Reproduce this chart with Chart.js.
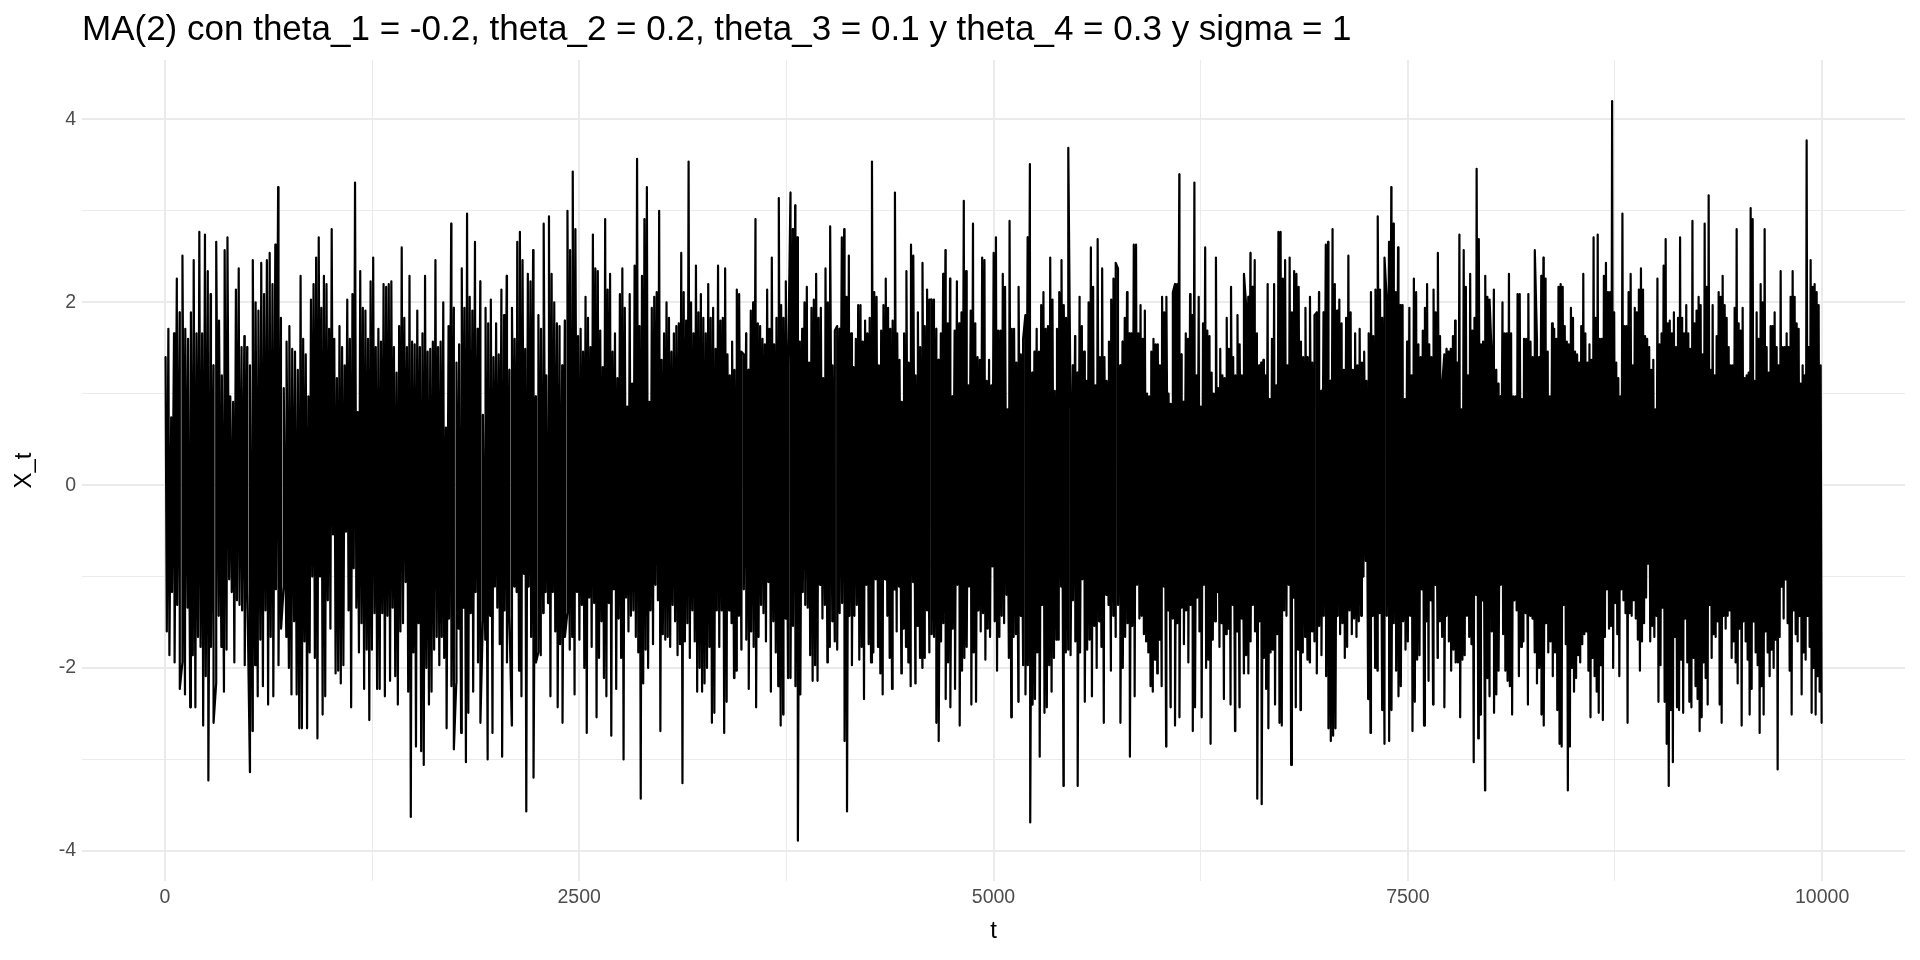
<!DOCTYPE html>
<html>
<head>
<meta charset="utf-8">
<script src="https://cdn.jsdelivr.net/npm/chart.js@4.4.1/dist/chart.umd.min.js"></script>
<style>
  html, body { margin: 0; padding: 0; background: #ffffff; }
  #wrap { width: 1920px; height: 960px; position: relative; }
</style>
</head>
<body>
<div id="wrap"><canvas id="c" width="1920" height="960"></canvas></div>
<script>
const chartTitle = "MA(2) con theta_1 = -0.2, theta_2 = 0.2, theta_3 = 0.1 y theta_4 = 0.3 y sigma = 1";
const xTitle = "t";
const yTitle = "X_t";
const xTickValues = [0, 1250, 2500, 3750, 5000, 6250, 7500, 8750, 10000];
const xTickLabels = ["0", "", "2500", "", "5000", "", "7500", "", "10000"];
const yTickValues = [-4, -3, -2, -1, 0, 1, 2, 3, 4];
const yTickLabels = ["-4", "", "-2", "", "0", "", "2", "", "4"];

// t at which each read-off segment of the series starts / ends
const segmentBounds = [0, 815, 1660, 2505, 3349, 4194, 5039, 5884, 6729, 7574, 8419, 9264, 10000];

// upper spikes of X_t, read left to right, per segment
const upperPeaks = [
 [1.4,1.71,0.74,1.66,2.26,1.89,2.51,1.71,1.6,1.89,2.46,1.66,2.77,1.66,2.74,2.34,2.09,1.31,2.66,1.8,1.2,2.57,2.71,0.97,0.91,2.14,2.37,1.51,1.63,1.51,1.31,2.46,2.0,1.91,2.43,2.09,2.46,2.54,2.2,2.63,3.26,1.83,1.06,1.57,1.74,1.49,1.46,1.26],
 [2.29,1.6,1.43,0.97,2.03,2.2,2.49,2.71,1.94,2.29,2.2,1.71,2.8,1.6,1.17,1.74,1.51,1.31,2.03,1.6,2.09,3.31,0.8,2.34,1.94,1.91,1.6,2.23,2.49,1.51,1.71,1.57,2.2,2.17,2.2,2.23,1.51,1.23,1.74,2.6,1.83,1.51,2.29,1.57,1.54,1.91,1.51,1.66,2.29,1.46,1.49,1.57,2.46,1.51],
 [1.57,2.0,0.63,1.74,2.86,1.94,1.34,1.54,2.37,1.94,2.97,2.06,1.91,2.66,1.71,2.23,0.77,1.94,1.77,2.03,1.4,1.77,1.43,2.14,1.86,2.29,1.26,1.94,1.6,2.66,2.77,2.46,1.49,2.31,2.23,2.57,0.97,1.86,1.71,2.86,1.2,2.94,2.31,2.0,1.77,1.74,1.31,1.8,3.0,2.57,3.43,2.8,1.63],
 [1.71,1.46,2.06,1.83,1.51,2.74,2.37,2.34,1.69,1.29,2.91,2.14,2.31,1.46,1.66,1.17,2.09,2.37,1.94,0.86,2.09,1.11,2.4,3.57,1.74,2.29,2.91,3.26,0.91,1.94,2.06,2.11,3.0,1.37,1.66,2.0,1.83,1.46,1.66,1.74,1.77,2.54,2.11,1.8,3.54,2.0,1.66,2.4,1.89,2.09,1.83,1.66,2.2,1.83,1.94,1.49,2.4],
 [1.8,1.83,2.37,1.43,1.2,1.57,1.26,2.14,2.09,1.46,1.43,1.66,1.26,1.91,2.0,2.91,1.77,1.74,1.6,1.54,2.14,1.71,2.49,1.54,1.83,3.14,1.97,1.83,2.23,1.31,3.2,2.8,3.06,2.71,1.57,1.71,2.0,2.17,1.34,1.94,2.03,2.31,1.83,1.94,1.17,2.37,2.0,2.83,1.31,1.69,1.74,1.71,2.71,2.8,2.06,2.51,1.66,1.29,1.6,1.97],
 [1.97,1.57,1.8,1.66,1.83,3.54,2.11,2.06,1.31,1.69,1.97,2.26,1.94,1.71,1.8,3.2,1.66,1.37,0.91,1.66,2.34,1.34,2.63,2.51,1.2,1.89,1.51,2.43,1.74,2.14,2.03,2.03,2.03,1.71,1.37,1.66,2.31,2.57,1.77,2.26,0.97,1.69,2.23,1.77,1.89,3.11,2.34,1.09,1.91,2.86,1.77,1.4,1.37,2.49,2.46,1.14,1.37,1.09,2.54,2.71,1.69],
 [1.69,2.31,2.17,0.83,2.89,1.71,1.71,1.34,2.17,1.43,1.6,1.86,2.71,3.51,1.23,1.46,1.71,1.46,1.97,2.11,1.71,1.74,2.49,2.03,1.03,1.71,2.11,2.46,1.97,1.83,3.69,0.83,1.31,1.63,1.23,2.06,1.74,1.46,1.14,2.0,2.6,2.17,1.09,2.69,1.4,2.37,1.4,1.14,1.57,2.03,2.26,2.43,2.37,1.31,1.57,1.83,2.11,1.66,1.66,2.63,2.63,1.66],
 [1.97,1.6,1.91,1.0,0.97,1.46,1.6,1.54,1.54,1.31,2.06,1.89,2.06,1.0,0.89,2.11,2.2,2.2,3.4,1.43,0.91,1.66,1.6,2.09,1.86,3.31,1.2,2.06,0.86,1.77,2.6,1.69,1.63,1.23,1.0,2.49,1.06,1.49,1.2,1.17,1.83,1.49,2.17,1.4,1.2,1.86,1.54,1.2,2.31,1.97,2.06,2.54,2.17,2.46,1.66,1.31,1.34,1.37,1.2,2.2,0.94,1.6,2.2,1.09,2.77],
 [2.77,2.26,2.46,1.31,2.49,1.89,2.34,2.31,2.17,1.57,1.4,1.94,1.4,2.06,1.34,1.86,1.89,2.11,1.03,1.89,2.63,2.66,1.14,2.8,2.2,1.91,2.03,1.77,1.26,1.83,2.51,1.89,1.26,1.66,1.31,1.71,1.34,1.46,1.14,1.66,2.11,1.63,2.14,2.94,2.14,1.83,2.49,2.03,2.66,3.26,2.86,2.11,2.6,1.97,1.97,0.94,1.57,1.94,1.2,2.26,2.11,1.54],
 [1.4,1.69,1.94,2.2,1.54,1.4,2.14,1.89,2.54,1.63,1.09,1.43,1.49,1.46,1.49,1.63,1.8,1.34,2.74,0.83,2.57,2.17,1.2,2.31,1.69,1.83,3.46,2.69,1.54,1.57,2.29,2.06,2.03,1.4,2.14,1.26,1.11,0.97,2.0,1.66,1.66,2.31,1.66,0.97,0.97,2.09,2.09,0.94,1.6,1.6,2.09,1.57,1.4,2.57,1.6,1.4,2.29,2.49,2.26,1.46,0.97,1.77,1.71,1.6,2.17],
 [2.2,2.17,1.74,1.57,1.54,1.94,1.83,1.46,1.43,1.34,1.74,2.31,1.66,1.34,1.54,1.37,2.71,1.83,2.74,1.6,1.6,2.29,2.43,2.11,2.11,4.2,1.89,1.34,1.17,0.97,2.97,1.74,1.74,2.11,2.31,1.31,1.94,1.89,2.14,2.37,2.14,1.63,1.6,1.51,1.26,1.37,0.83,2.26,1.54,1.66,2.4,2.69,1.77,1.8,1.66,1.89,1.51,1.83,2.71,1.83,1.66,1.97,1.66,1.49,2.89,1.77,1.91,2.06],
 [1.97,1.43,2.86,2.17,3.17,1.26,1.97,1.2,1.63,2.11,2.06,2.29,1.97,1.83,1.51,1.31,1.31,1.94,2.8,1.77,1.69,1.94,1.17,1.2,1.23,3.03,2.91,1.14,1.89,1.6,2.2,2.0,2.8,1.51,1.23,1.74,1.74,1.89,1.51,1.31,2.34,1.51,1.51,1.66,1.51,2.06,2.34,2.06,1.77,1.71,1.11,1.31,1.2,3.77,1.51,2.46,2.17,2.2,2.11,1.97,1.31]
];

// lower spikes of X_t, read left to right, per segment
const lowerTroughs = [
 [-1.6,-1.86,-1.17,-1.94,-1.31,-2.23,-1.94,-2.29,-1.34,-2.43,-1.86,-2.43,-1.66,-1.77,-2.63,-2.09,-3.23,-1.77,-2.6,-2.17,-1.43,-1.77,-2.26,-1.8,-1.03,-1.17,-1.94,-1.26,-1.31,-1.37,-1.97,-1.14,-3.14,-2.69,-1.97,-2.31,-1.69,-2.2,-1.37,-2.4,-1.66,-2.31,-1.14,-1.97,-1.57,-1.11,-1.66,-2.0,-2.29,-1.49,-2.29,-2.66],
 [-2.66,-1.71,-2.66,-1.83,-1.0,-1.89,-2.77,-1.0,-2.51,-2.31,-1.26,-1.57,-0.54,-2.06,-2.03,-2.17,-1.97,-0.51,-1.37,-2.43,-0.91,-1.34,-1.83,-1.51,-2.23,-1.8,-2.57,-1.8,-1.4,-2.23,-2.23,-1.4,-2.31,-1.43,-2.14,-1.34,-2.09,-2.4,-1.6,-1.51,-1.06,-2.26,-3.63,-1.83,-2.86,-1.51,-2.91,-3.06,-2.0,-2.4,-2.26,-1.8,-1.66,-1.97],
 [-1.66,-1.89,-2.66,-1.46,-2.2,-2.89,-2.17,-1.57,-2.71,-1.34,-3.03,-2.49,-1.4,-2.26,-1.17,-1.94,-2.6,-1.49,-1.69,-3.0,-1.43,-2.71,-1.11,-1.34,-1.74,-2.97,-1.37,-1.94,-1.43,-2.63,-1.11,-1.17,-2.03,-2.31,-0.97,-3.57,-1.11,-1.66,-3.2,-1.94,-1.83,-1.86,-1.4,-1.17,-1.29,-2.31,-1.17,-1.6,-2.43,-1.74,-2.6,-1.66,-1.4,-1.8,-1.66,-2.29,-1.17,-1.69],
 [-1.31,-2.0,-2.71,-1.23,-1.77,-1.29,-2.54,-1.89,-1.49,-2.11,-2.31,-1.29,-2.74,-1.14,-2.23,-1.46,-1.89,-3.0,-1.23,-1.6,-1.43,-1.37,-1.66,-1.83,-3.43,-2.17,-1.8,-2.0,-1.37,-1.74,-1.09,-1.26,-2.69,-1.63,-1.69,-1.66,-1.77,-1.31,-1.49,-1.86,-1.74,-3.26,-1.71,-1.51,-1.89,-1.37,-1.71,-2.26,-2.0,-2.26,-2.17,-2.0,-1.77,-2.6,-2.49,-1.37,-1.77],
 [-1.37,-2.71,-2.37,-1.37,-1.51,-2.11,-2.03,-1.43,-1.8,-1.14,-1.69,-2.23,-1.6,-1.77,-2.43,-1.66,-1.31,-1.4,-1.71,-1.06,-2.26,-1.49,-1.83,-2.2,-2.63,-2.51,-1.46,-2.11,-2.11,-1.54,-2.2,-3.89,-2.29,-1.17,-1.31,-1.34,-1.86,-2.14,-1.97,-2.14,-1.09,-1.46,-1.31,-1.94,-1.77,-1.49,-1.71,-1.8,-1.4,-1.29,-2.8,-3.57,-1.43,-1.97,-1.43,-1.31,-1.91],
 [-1.77,-2.34,-1.09,-1.74,-1.94,-1.83,-1.03,-1.77,-2.06,-2.29,-1.03,-1.43,-1.89,-2.23,-1.14,-1.6,-1.11,-2.06,-1.57,-1.77,-1.94,-2.2,-1.06,-2.17,-1.54,-1.89,-2.0,-1.89,-1.37,-1.83,-1.63,-1.66,-2.6,-2.8,-1.71,-1.51,-2.34,-1.94,-2.43,-1.57,-2.23,-1.09,-2.63,-2.03,-1.89,-1.77,-1.11,-2.4,-1.83,-2.37,-1.37,-1.6,-1.4,-1.91,-1.57,-1.66,-0.89,-1.49,-2.03,-1.66],
 [-1.43,-1.51,-1.2,-1.89,-2.54,-1.66,-1.63,-2.37,-1.43,-1.97,-2.29,-1.97,-3.69,-2.4,-2.34,-1.83,-2.97,-1.31,-2.49,-2.43,-1.97,-2.26,-1.89,-1.69,-1.69,-1.11,-3.29,-1.83,-1.8,-1.86,-1.26,-1.71,-3.29,-1.83,-1.03,-2.37,-1.8,-1.69,-2.31,-1.54,-2.0,-1.49,-1.77,-2.6,-1.2,-1.31,-2.03,-1.43,-1.66,-1.31,-2.6,-2.0,-1.66,-1.51,-2.97,-1.54,-2.31,-1.09,-1.46],
 [-1.43,-1.63,-1.71,-1.83,-2.2,-2.26,-1.91,-2.06,-1.69,-2.2,-1.11,-2.86,-1.37,-2.43,-1.46,-2.63,-1.51,-2.54,-1.34,-1.74,-1.37,-1.94,-1.31,-2.69,-2.43,-1.23,-1.6,-2.54,-1.09,-2.0,-1.91,-2.83,-1.69,-1.49,-1.17,-1.77,-1.51,-2.34,-1.63,-1.57,-2.4,-1.31,-2.69,-1.6,-2.43,-1.46,-2.06,-1.86,-2.06,-1.71,-1.31,-1.6,-3.43,-1.49,-3.49,-1.89,-2.23,-2.66,-1.83,-1.8,-2.4,-1.63,-2.6],
 [-2.63,-1.37,-1.43,-1.09,-3.06,-1.23,-2.43,-1.8,-2.46,-1.83,-1.66,-1.91,-1.94,-1.6,-1.71,-2.06,-1.54,-1.86,-1.43,-2.09,-2.66,-2.8,-2.74,-2.66,-1.43,-1.63,-1.51,-1.89,-1.77,-1.37,-1.63,-1.46,-1.66,-1.49,-1.43,-1.0,-0.83,-2.34,-2.71,-1.43,-2.0,-2.03,-1.4,-2.46,-2.83,-1.43,-2.8,-2.46,-1.51,-2.03,-2.31,-2.2,-1.49,-1.8,-1.71,-1.43,-2.69,-2.37,-1.91,-1.86],
 [-1.14,-2.63,-1.49,-2.14,-1.26,-2.4,-1.09,-1.89,-1.49,-1.66,-2.43,-1.43,-1.71,-2.03,-1.8,-1.94,-1.94,-2.54,-1.91,-1.86,-1.43,-1.66,-1.74,-3.03,-1.2,-2.77,-2.51,-1.26,-3.34,-2.11,-2.31,-1.6,-2.49,-2.29,-2.03,-1.09,-1.63,-2.03,-2.14,-2.2,-2.51,-1.26,-1.37,-2.09,-1.77,-1.71,-1.4,-2.4,-1.43,-1.46,-1.83,-2.17,-2.0,-2.51,-2.63,-1.51,-1.83,-1.71,-2.09,-1.83,-2.46,-2.83],
 [-2.86,-1.31,-1.74,-3.34,-2.86,-2.0,-2.26,-2.11,-1.86,-1.94,-1.74,-1.63,-1.6,-2.03,-2.54,-1.89,-2.09,-2.26,-2.49,-1.97,-2.57,-1.66,-1.14,-1.57,-1.54,-2.0,-1.29,-1.63,-2.09,-1.14,-1.26,-1.4,-2.6,-1.4,-1.43,-1.26,-1.46,-1.69,-2.03,-1.71,-1.51,-1.23,-0.86,-1.71,-1.54,-1.66,-1.43,-2.37,-1.97,-1.34,-2.37,-2.83,-3.29,-2.46,-3.03,-1.66,-2.43,-2.46,-1.91,-2.49,-1.46,-1.94,-2.37,-2.43,-1.89,-2.2,-2.34,-2.69],
 [-2.54,-1.94,-2.11,-2.4,-1.31,-1.89,-1.63,-1.66,-1.49,-2.4,-2.6,-1.43,-1.57,-1.43,-1.37,-1.89,-1.71,-1.94,-2.17,-1.57,-2.63,-1.49,-1.71,-1.91,-2.51,-2.23,-1.49,-1.83,-1.97,-2.71,-2.2,-2.51,-1.6,-1.83,-2.09,-1.8,-2.0,-1.69,-3.11,-1.66,-1.11,-1.46,-1.03,-1.51,-2.03,-2.51,-1.37,-1.63,-1.71,-1.43,-2.29,-1.83,-1.91,-1.43,-1.77,-2.49,-2.0,-2.51,-2.09,-2.26,-2.6]
];

// Build the (t, X_t) table from the read-off spikes.
const seriesPoints = [];
for (let k = 0; k < upperPeaks.length; k++) {
  const a = segmentBounds[k], b = segmentBounds[k + 1];
  const up = upperPeaks[k], lo = lowerTroughs[k];
  up.forEach((v, i) => seriesPoints.push({ x: a + (b - a) * (i + 0.25) / up.length, y: v }));
  lo.forEach((v, i) => seriesPoints.push({ x: a + (b - a) * (i + 0.75) / lo.length, y: v }));
}
seriesPoints.sort((p, q) => p.x - q.x);

const FONT = "'Liberation Sans', Arial, Helvetica, sans-serif";
const PANEL = { left: 82, right: 1905, top: 60, bottom: 881 };

const titlePlugin = {
  id: 'ggTitle',
  afterDraw(chart) {
    const ctx = chart.ctx;
    ctx.save();
    ctx.fillStyle = '#000000';
    ctx.font = `35px ${FONT}`;
    ctx.textAlign = 'left';
    ctx.textBaseline = 'alphabetic';
    ctx.fillText(chartTitle, chart.chartArea.left, 40);
    ctx.restore();
  }
};

const bgPlugin = {
  id: 'bg',
  beforeDraw(chart) {
    const ctx = chart.ctx;
    ctx.save();
    ctx.fillStyle = '#ffffff';
    ctx.fillRect(0, 0, chart.width, chart.height);
    ctx.restore();
  }
};

new Chart(document.getElementById('c'), {
  type: 'line',
  data: {
    datasets: [{
      data: seriesPoints,
      borderColor: '#000000',
      borderWidth: 2.2,
      pointRadius: 0,
      tension: 0,
      fill: false,
      borderJoinStyle: 'round',
      borderCapStyle: 'round'
    }]
  },
  options: {
    responsive: false,
    animation: false,
    devicePixelRatio: 1,
    parsing: false,
    normalized: true,
    layout: { padding: { top: PANEL.top, right: 1920 - PANEL.right, left: 0, bottom: 0 } },
    plugins: { legend: { display: false }, tooltip: { enabled: false }, title: { display: false } },
    scales: {
      x: {
        type: 'linear',
        min: -500,
        max: 10500,
        afterBuildTicks(scale) { scale.ticks = xTickValues.map(v => ({ value: v })); },
        afterFit(scale) { scale.height = 960 - PANEL.bottom; },
        border: { display: false },
        grid: {
          drawTicks: false,
          color: '#ebebeb',
          lineWidth: c => (xTickLabels[xTickValues.indexOf(c.tick.value)] ? 2 : 1)
        },
        ticks: {
          autoSkip: false,
          maxRotation: 0,
          padding: 5,
          color: '#4d4d4d',
          font: { family: FONT, size: 19.5 },
          callback: (v) => { const i = xTickValues.indexOf(v); return i >= 0 ? xTickLabels[i] : ''; }
        },
        title: {
          display: true,
          text: xTitle,
          color: '#000000',
          font: { family: FONT, size: 24 },
          padding: { top: 0, bottom: 14 }
        }
      },
      y: {
        type: 'linear',
        min: -4.33,
        max: 4.65,
        afterBuildTicks(scale) { scale.ticks = yTickValues.map(v => ({ value: v })); },
        afterFit(scale) { scale.width = PANEL.left; },
        border: { display: false },
        grid: {
          drawTicks: false,
          color: '#ebebeb',
          lineWidth: c => (yTickLabels[yTickValues.indexOf(c.tick.value)] ? 2 : 1)
        },
        ticks: {
          autoSkip: false,
          padding: 6,
          color: '#4d4d4d',
          font: { family: FONT, size: 19.5 },
          callback: (v) => { const i = yTickValues.indexOf(v); return i >= 0 ? yTickLabels[i] : ''; }
        },
        title: {
          display: true,
          text: yTitle,
          color: '#000000',
          font: { family: FONT, size: 24 },
          padding: { top: 10, bottom: 0 }
        }
      }
    }
  },
  plugins: [bgPlugin, titlePlugin]
});
</script>
</body>
</html>
